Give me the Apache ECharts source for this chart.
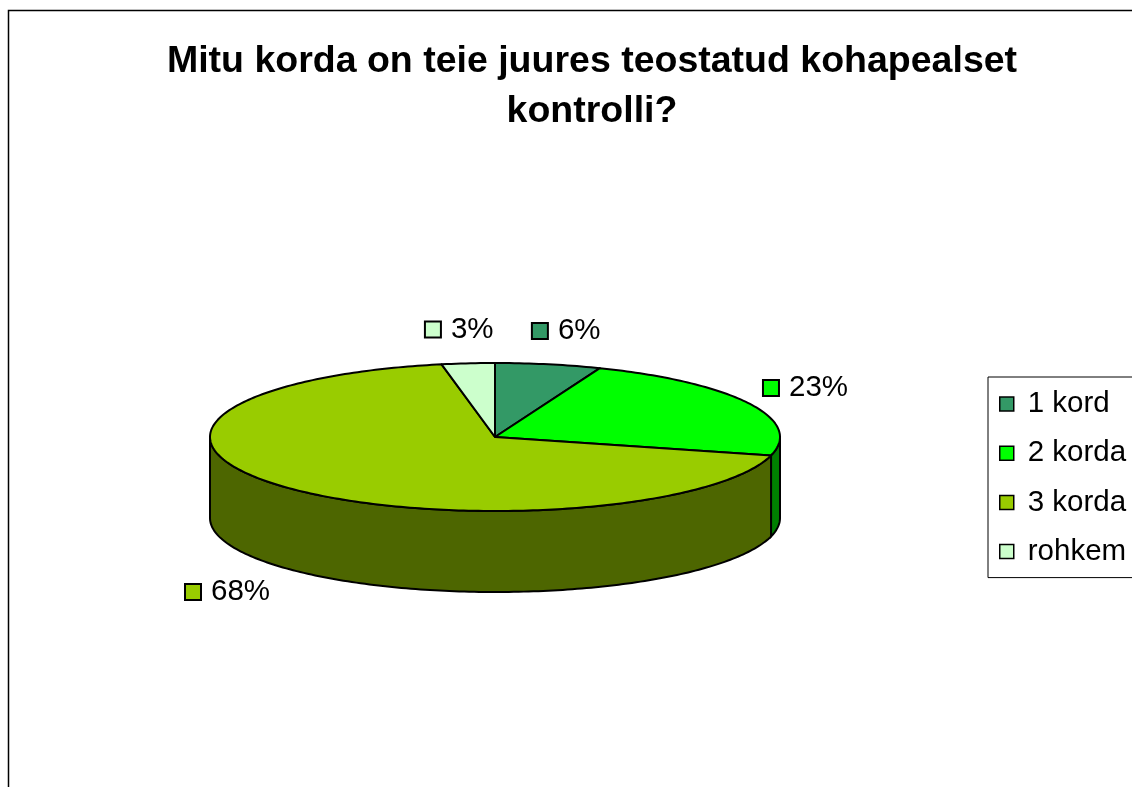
<!DOCTYPE html>
<html lang="et">
<head>
    <meta charset="UTF-8">
    <title>Kohapealne kontroll</title>
    <script src="https://cdn.jsdelivr.net/npm/echarts@6/dist/echarts.min.js"></script>
</head>
<body style="margin:0;">
<div id="chart" style="width:1132px;height:787px;"></div>
<script>
    // andmed
    var categories = ['1 kord', '2 korda', '3 korda', 'rohkem'];
    var shares = [6, 23, 68, 3];
    var labels = ['6%', '23%', '68%', '3%'];
    var colors = ['#339966', '#00FF00', '#99CC00', '#CCFFCC'];
    var sideColors = ['#1A4D33', '#008000', '#4D6600', '#668066'];

    // 3D pirukas (ellips + kõrgus)
    var cx = 495, cy = 437, rx = 285, ry = 74, depth = 81;
    var labelRx = 380, labelRy = 108, plotLeft = 185, plotRight = 848;
    var font = 'Arial, "Liberation Sans", sans-serif';
    var total = shares.reduce(function (a, b) { return a + b; }, 0);

    function pt(deg, dy) {
        var r = deg * Math.PI / 180;
        return [cx + rx * Math.sin(r), cy - ry * Math.cos(r) + (dy || 0)];
    }
    function arc(a, b, dy) {
        var pts = [];
        var n = Math.max(2, Math.ceil(Math.abs(b - a)));
        for (var k = 0; k <= n; k++) {
            pts.push(pt(a + (b - a) * k / n, dy));
        }
        return pts;
    }

    function makeRender(i) {
        return function (params, api) {
            var before = 0;
            for (var j = 0; j < i; j++) before += shares[j];
            var a0 = before / total * 360;
            var a1 = a0 + api.value(0) / total * 360;
            var children = [];

            // esikülg
            var lo = Math.max(a0, 90), hi = Math.min(a1, 270);
            if (lo < hi) {
                var wall = arc(lo, hi, 0).concat(arc(hi, lo, depth));
                children.push({
                    type: 'polygon',
                    shape: {points: wall},
                    style: {fill: sideColors[i], stroke: '#000', lineWidth: 2}
                });
            }
            // pealmine pind
            children.push({
                type: 'polygon',
                shape: {points: [[cx, cy]].concat(arc(a0, a1, 0))},
                style: {fill: colors[i], stroke: '#000', lineWidth: 2, lineJoin: 'round'}
            });

            // silt
            var mid = (a0 + a1) / 2 * Math.PI / 180;
            var s = Math.sin(mid), c = Math.cos(mid);
            var fs = 29.5;
            var txt = labels[i];
            var tw = 0;
            for (var k = 0; k < txt.length; k++) tw += (txt[k] === '%' ? 0.889 : 0.556) * fs;
            var w = 16 + 10 + tw;
            var lx = cx + s * labelRx;
            var ly = cy - c * labelRy + (c < 0 ? depth : 0);
            var left = Math.max(plotLeft, Math.min(plotRight - w, lx - w / 2));
            children.push({
                type: 'rect',
                shape: {x: left, y: ly - 8, width: 16, height: 16},
                style: {fill: colors[i], stroke: '#000', lineWidth: 2}
            });
            children.push({
                type: 'text',
                x: left + 26,
                y: ly,
                style: {text: txt, fontSize: fs, fontFamily: font, fill: '#000',
                    align: 'left', verticalAlign: 'middle'}
            });
            return {type: 'group', children: children};
        };
    }

    var chart = echarts.init(document.getElementById('chart'));
    var option = {
        animation: false,
        backgroundColor: '#fff',
        title: {
            text: 'Mitu korda on teie juures teostatud kohapealset\nkontrolli?',
            left: 592,
            top: 37,
            padding: 0,
            textAlign: 'center',
            textStyle: {fontSize: 37.5, fontWeight: 'bold', lineHeight: 50, color: '#000', fontFamily: font}
        },
        legend: {
            orient: 'vertical',
            left: 988,
            top: 377,
            padding: [12, 40, 11, 11],
            itemGap: 19.2,
            itemWidth: 14,
            itemHeight: 14,
            icon: 'rect',
            borderColor: '#000',
            borderWidth: 1,
            selectedMode: false,
            itemStyle: {borderColor: '#000', borderWidth: 1.5},
            textStyle: {fontSize: 29.5, lineHeight: 29.5, color: '#000', fontFamily: font, padding: [0, 0, 0, 9]},
            data: categories
        },
        graphic: [{
            type: 'rect',
            silent: true,
            shape: {x: 8.5, y: 10.5, width: 1300, height: 1000},
            style: {fill: 'none', stroke: '#000', lineWidth: 1.5}
        }],
        series: categories.map(function (name, i) {
            return {
                type: 'custom',
                name: name,
                coordinateSystem: 'none',
                itemStyle: {color: colors[i]},
                data: [shares[i]],
                renderItem: makeRender(i)
            };
        })
    };
    chart.setOption(option);
</script>
</body>
</html>
